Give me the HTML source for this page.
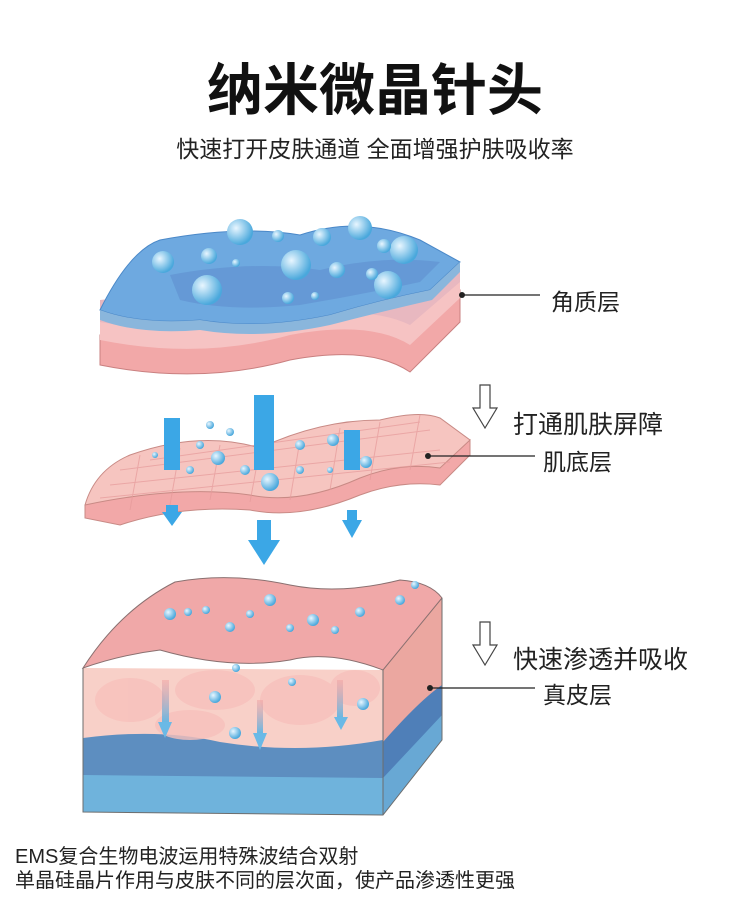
<!DOCTYPE html>
<html><head><meta charset="utf-8"><style>
body{margin:0;background:#fff;}
.w{position:relative;width:750px;height:910px;overflow:hidden;font-family:"Liberation Sans","Noto Sans CJK SC",sans-serif;}
.t{position:absolute;white-space:nowrap;color:#222;}
</style></head><body><div class="w">
<div class="t" style="left:0;width:750px;text-align:center;top:46px;font-size:56px;font-weight:bold;color:#111;">纳米微晶针头</div>
<div class="t" style="left:0;width:750px;text-align:center;top:130px;font-size:23px;">快速打开皮肤通道 全面增强护肤吸收率</div>
<svg width="750" height="910" style="position:absolute;left:0;top:0">
<defs>
<radialGradient id="b" cx="35%" cy="35%" r="65%"><stop offset="0" stop-color="#e8f6ff"/><stop offset="1" stop-color="#4aa8dc"/></radialGradient>
<linearGradient id="ar" x1="0" y1="0" x2="0" y2="1"><stop offset="0" stop-color="#f0a0a0" stop-opacity="0.5"/><stop offset="1" stop-color="#5ab8e8"/></linearGradient>
</defs>
<path d="M100,335 L100,365 Q200,385 290,360 Q370,345 410,372 L460,322 L460,290 Z" fill="#f2a8a8" stroke="#c98080"/>
<path d="M100,318 L100,340 Q200,360 290,335 Q370,320 410,345 L460,298 L460,275 Z" fill="#f6c3c3"/>
<path d="M100,300 L100,322 Q200,340 290,318 Q370,305 410,325 L460,282 L460,262 Z" fill="#e8b8c0"/>
<path d="M100,310 Q130,250 160,240 Q240,225 300,235 Q360,215 420,240 L460,262 L430,290 Q380,300 330,315 Q260,330 200,320 Q140,325 100,310 Z" fill="#6ea9e0" stroke="#4a88c8"/>
<path d="M100,310 Q140,325 200,320 Q260,330 330,315 Q380,300 430,290 L460,262 L460,272 L432,300 Q380,312 330,325 Q260,340 200,330 Q140,335 100,320 Z" fill="#8ab6dc"/>
<path d="M170,275 Q250,260 320,270 Q380,255 440,262 L420,282 Q360,295 300,305 Q230,312 180,300 Z" fill="#5f8fcf" opacity="0.6"/>
<g fill="url(#b)">
<circle cx="240" cy="232" r="13"/><circle cx="296" cy="265" r="15"/><circle cx="207" cy="290" r="15"/><circle cx="163" cy="262" r="11"/><circle cx="360" cy="228" r="12"/><circle cx="404" cy="250" r="14"/><circle cx="388" cy="285" r="14"/><circle cx="322" cy="237" r="9"/><circle cx="278" cy="236" r="6"/><circle cx="337" cy="270" r="8"/><circle cx="384" cy="246" r="7"/><circle cx="209" cy="256" r="8"/><circle cx="288" cy="298" r="6"/><circle cx="315" cy="296" r="4"/><circle cx="372" cy="274" r="6"/><circle cx="236" cy="263" r="4"/>
</g>
<path d="M85,505 Q95,470 130,455 Q200,430 260,448 Q320,420 380,420 Q420,410 440,418 L470,440 L440,475 Q400,470 360,485 Q300,510 250,500 Q180,495 120,515 Z" fill="#f6c5c0" stroke="#c88a85"/>
<path d="M85,505 Q180,485 250,495 Q300,505 360,478 Q400,462 440,468 L470,440 L470,455 L440,485 Q400,480 360,495 Q300,520 250,510 Q180,505 120,525 L85,518 Z" fill="#f2a8a8" stroke="#c88a85"/>
<g stroke="#e69a9a" stroke-width="1" fill="none" opacity="0.7">
<path d="M120,470 L430,430 M110,485 L440,450 M100,498 L450,462 M150,460 L420,422"/>
<path d="M140,455 L130,510 M180,448 L170,505 M220,445 L210,500 M260,448 L250,502 M300,440 L290,500 M340,428 L330,490 M380,422 L370,480 M420,415 L410,470"/>
</g>
<g fill="url(#b)"><circle cx="218" cy="458" r="7"/><circle cx="270" cy="482" r="9"/><circle cx="366" cy="462" r="6"/><circle cx="333" cy="440" r="6"/><circle cx="245" cy="470" r="5"/><circle cx="200" cy="445" r="4"/><circle cx="300" cy="445" r="5"/><circle cx="190" cy="470" r="4"/><circle cx="300" cy="470" r="4"/><circle cx="155" cy="455" r="3"/><circle cx="230" cy="432" r="4"/><circle cx="210" cy="425" r="4"/><circle cx="330" cy="470" r="3"/></g>
<g fill="#3ba7e6">
<rect x="164" y="418" width="16" height="52"/><rect x="166" y="505" width="12" height="10"/><path d="M162,512 L182,512 L172,526 Z"/>
<rect x="254" y="395" width="20" height="75"/><rect x="257" y="520" width="14" height="22"/><path d="M248,540 L280,540 L264,565 Z"/>
<rect x="344" y="430" width="16" height="40"/><rect x="347" y="510" width="10" height="14"/><path d="M342,520 L362,520 L352,538 Z"/>
</g>
<path d="M83,668 L83,812 L383,815 L383,670 Z" fill="#f8d0c8"/>
<path d="M83,738 Q160,728 220,742 Q300,755 383,740 L383,815 L83,812 Z" fill="#5d8ec0"/>
<path d="M83,775 L383,778 L383,815 L83,812 Z" fill="#6fb3dc"/>
<path d="M383,670 L442,598 L442,740 L383,815 Z" fill="#eba7a0"/>
<path d="M383,742 Q420,700 442,685 L442,740 L383,815 Z" fill="#4f7fb8"/>
<path d="M383,778 L442,715 L442,740 L383,815 Z" fill="#68a8d4"/>
<path d="M83,668 Q120,610 175,582 Q230,572 290,585 Q340,595 400,580 Q430,582 442,598 L383,670 Q330,650 290,660 Q230,670 160,650 Q120,655 83,668 Z" fill="#f0a8a8" stroke="#8a7070"/>
<g fill="#f7c0bc" opacity="0.8"><ellipse cx="130" cy="700" rx="35" ry="22"/><ellipse cx="215" cy="690" rx="40" ry="20"/><ellipse cx="300" cy="700" rx="40" ry="25"/><ellipse cx="355" cy="688" rx="25" ry="18"/><ellipse cx="190" cy="725" rx="35" ry="15"/></g>
<path d="M83,668 L83,812 L383,815 L442,740 L442,598 M383,670 L383,815" fill="none" stroke="#6d6d6d"/>
<g fill="url(#b)"><circle cx="170" cy="614" r="6"/><circle cx="188" cy="612" r="4"/><circle cx="230" cy="627" r="5"/><circle cx="270" cy="600" r="6"/><circle cx="313" cy="620" r="6"/><circle cx="360" cy="612" r="5"/><circle cx="400" cy="600" r="5"/><circle cx="415" cy="585" r="4"/><circle cx="250" cy="614" r="4"/><circle cx="290" cy="628" r="4"/><circle cx="335" cy="630" r="4"/><circle cx="206" cy="610" r="4"/><circle cx="215" cy="697" r="6"/><circle cx="236" cy="668" r="4"/><circle cx="363" cy="704" r="6"/><circle cx="235" cy="733" r="6"/><circle cx="292" cy="682" r="4"/></g>
<g fill="url(#ar)"><rect x="162" y="680" width="7" height="45"/><rect x="257" y="700" width="6" height="35"/><rect x="337" y="680" width="6" height="40"/></g>
<g fill="#6ab9e6"><path d="M158,722 L172,722 L165,738 Z"/><path d="M253,733 L267,733 L260,750 Z"/><path d="M334,717 L348,717 L341,730 Z"/></g>
<g stroke="#222" stroke-width="1.2"><line x1="462" y1="295" x2="540" y2="295"/><line x1="428" y1="456" x2="535" y2="456"/><line x1="430" y1="688" x2="535" y2="688"/></g>
<g fill="#222"><circle cx="462" cy="295" r="3"/><circle cx="428" cy="456" r="3"/><circle cx="430" cy="688" r="3"/></g>
<g fill="none" stroke="#444" stroke-width="1.2"><path d="M480,385 L490,385 L490,408 L497,408 L485,428 L473,408 L480,408 Z"/><path d="M480,622 L490,622 L490,645 L497,645 L485,665 L473,645 L480,645 Z"/></g>
</svg>
<div class="t" style="left:551px;top:283px;font-size:23px">角质层</div>
<div class="t" style="left:513px;top:405px;font-size:25px">打通肌肤屏障</div>
<div class="t" style="left:543px;top:443px;font-size:23px">肌底层</div>
<div class="t" style="left:513px;top:640px;font-size:25px">快速渗透并吸收</div>
<div class="t" style="left:543px;top:676px;font-size:23px">真皮层</div>
<div class="t" style="left:15px;top:840px;font-size:20px">EMS复合生物电波运用特殊波结合双射</div>
<div class="t" style="left:15px;top:864px;font-size:20px">单晶硅晶片作用与皮肤不同的层次面，使产品渗透性更强</div>
</div></body></html>
